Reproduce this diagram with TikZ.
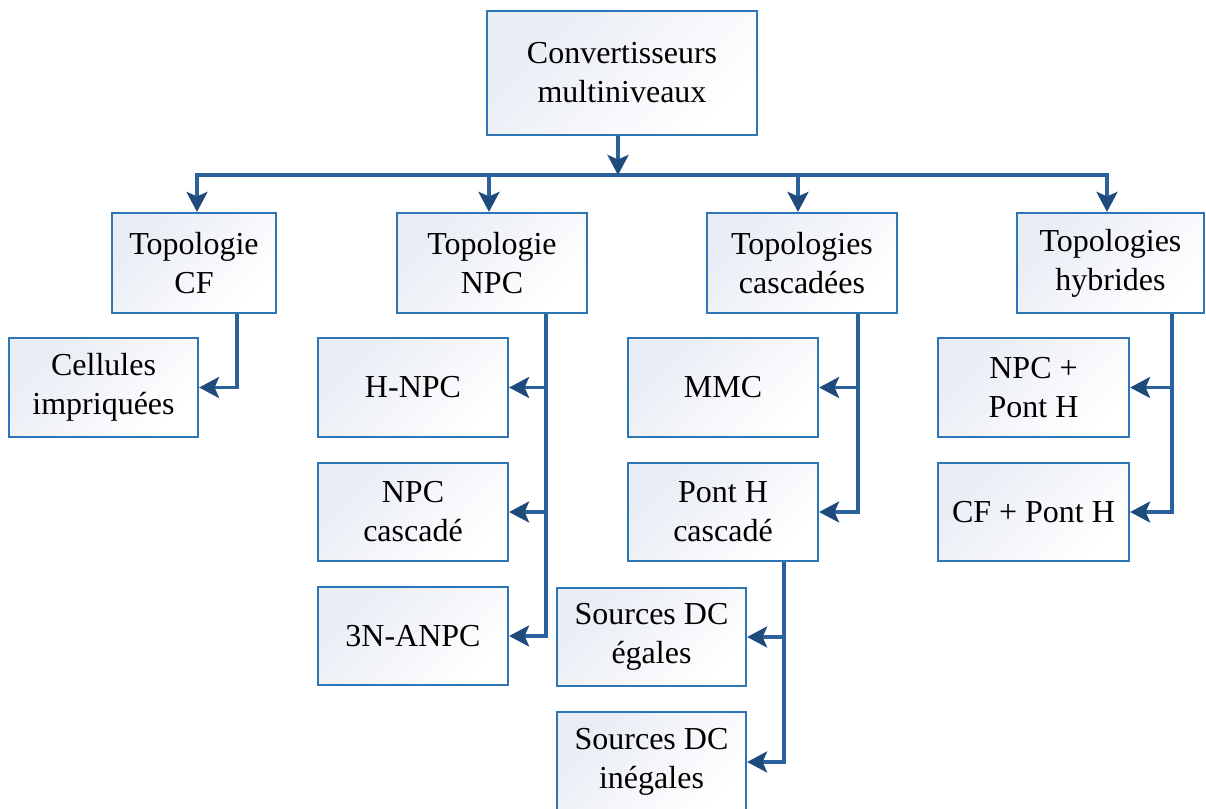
\documentclass[tikz,border=0pt]{standalone}
\usepackage{fontspec}
\setmainfont{Liberation Serif}
\usetikzlibrary{arrows.meta}
\definecolor{boxline}{RGB}{46,117,182}
\definecolor{boxfill}{RGB}{232,236,244}
\definecolor{wire}{RGB}{44,98,156}
\definecolor{tipcol}{RGB}{30,74,124}
\tikzset{
  box/.style={draw=boxline, line width=2.2pt, top color=boxfill, bottom color=white,
    shading angle=45, align=center, inner sep=0pt,
    font=\fontsize{32}{39}\selectfont},
  wirestyle/.style={draw=wire, line width=3.5pt},
  arr/.style={wirestyle, -{Stealth[length=20pt,width=21pt,inset=4.5pt,fill=tipcol,color=tipcol]}},
}
\begin{document}
\begin{tikzpicture}[x=1pt,y=-1pt]
\useasboundingbox (0,0) rectangle (1206,808);

% root
\node[box, minimum width=270pt, minimum height=124pt] (root) at (622,73) {Convertisseurs\\multiniveaux};

% first level
\node[box, minimum width=164pt, minimum height=100pt] (cf)  at (194,263)   {Topologie\\CF};
\node[box, minimum width=190pt, minimum height=100pt] (npc) at (492,263)   {Topologie\\NPC};
\node[box, minimum width=190pt, minimum height=100pt] (cas) at (802,263)   {Topologies\\cascadées};
\node[box, minimum width=187pt, minimum height=100pt] (hyb) at (1110.5,263){Topologies\\hybrides};

% second level
\node[box, minimum width=189pt, minimum height=99pt] (cell) at (103.5,387.5) {Cellules\\impriquées};
\node[box, minimum width=190pt, minimum height=99pt] (hnpc) at (413,387.5)   {H-NPC};
\node[box, minimum width=190pt, minimum height=98pt] (npcc) at (413,512)     {NPC\\cascadé};
\node[box, minimum width=190pt, minimum height=98pt] (anpc) at (413,636)     {3N-ANPC};
\node[box, minimum width=190pt, minimum height=99pt] (mmc)  at (723,387.5)   {MMC};
\node[box, minimum width=190pt, minimum height=98pt] (phc)  at (723,512)     {Pont H\\cascadé};
\node[box, minimum width=191pt, minimum height=99pt] (nph)  at (1033.5,387.5){NPC +\\Pont H};
\node[box, minimum width=191pt, minimum height=98pt] (cfph) at (1033.5,512)  {CF + Pont H};

% third level
\node[box, minimum width=189pt, minimum height=98pt]  (seg) at (651.5,637) {Sources DC\\égales};
\node[box, minimum width=189pt, minimum height=100pt] (sin) at (651.5,762) {Sources DC\\inégales};

% bus under the root
\coordinate (jt) at (618,175);
\coordinate (j1) at (197,175);
\coordinate (j2) at (489,175);
\coordinate (j3) at (798,175);
\coordinate (j4) at (1107,175);
\draw[wirestyle, line cap=rect] (j1) -- (j4);
\draw[arr] (root.south -| jt) -- (jt);
\draw[arr] (j1) -- (j1 |- cf.north);
\draw[arr] (j2) -- (j2 |- npc.north);
\draw[arr] (j3) -- (j3 |- cas.north);
\draw[arr] (j4) -- (j4 |- hyb.north);

% vertical feeders
\coordinate (vcf)  at (237,0);
\coordinate (vnpc) at (546,0);
\coordinate (vcas) at (858,0);
\coordinate (vphc) at (784,0);
\coordinate (vhyb) at (1172,0);

\draw[arr] (cf.south -| vcf) |- (cell.east);

\draw[arr] (npc.south -| vnpc) |- (hnpc.east);
\draw[arr] (npc.south -| vnpc) |- (npcc.east);
\draw[arr] (npc.south -| vnpc) |- (anpc.east);

\draw[arr] (cas.south -| vcas) |- (mmc.east);
\draw[arr] (cas.south -| vcas) |- (phc.east);

\draw[arr] (phc.south -| vphc) |- (seg.east);
\draw[arr] (phc.south -| vphc) |- (sin.east);

\draw[arr] (hyb.south -| vhyb) |- (nph.east);
\draw[arr] (hyb.south -| vhyb) |- (cfph.east);
\end{tikzpicture}
\end{document}
